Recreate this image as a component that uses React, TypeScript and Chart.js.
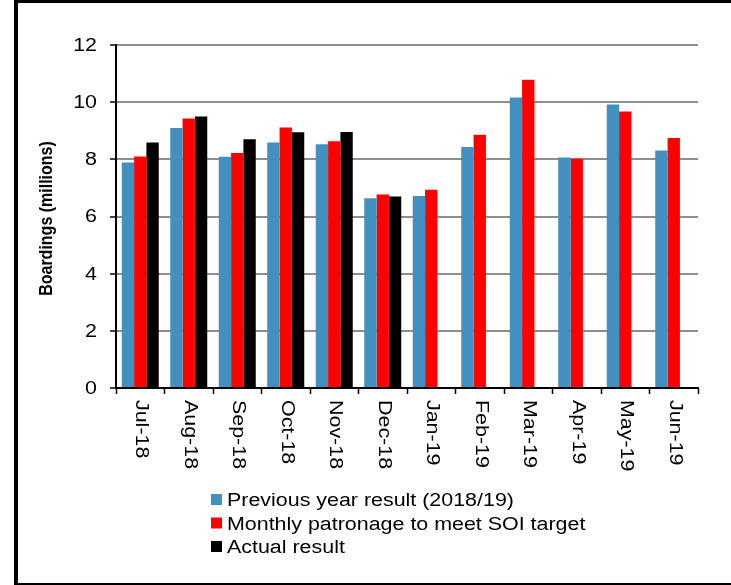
import React, { useEffect, useRef } from 'react';
import { Chart, registerables } from 'chart.js';

Chart.register(...registerables);

const months = ['Jul-18', 'Aug-18', 'Sep-18', 'Oct-18', 'Nov-18', 'Dec-18', 'Jan-19', 'Feb-19', 'Mar-19', 'Apr-19', 'May-19', 'Jun-19'];
const previousYear = [7.89, 9.1, 8.09, 8.59, 8.53, 6.64, 6.72, 8.43, 10.16, 8.06, 9.92, 8.31];
const soiTarget = [8.1, 9.43, 8.22, 9.11, 8.63, 6.77, 6.94, 8.86, 10.78, 8.02, 9.67, 8.75];
const actualResult = [8.59, 9.5, 8.7, 8.95, 8.96, 6.7, null, null, null, null, null, null];
const seriesLabels = ['Previous year result (2018/19)', 'Monthly patronage to meet SOI target', 'Actual result'];
const seriesColors = ['#4290C0', '#FF0000', '#000000'];
const yMin = 0;
const yMax = 12;
const yStep = 2;
const yTitle = 'Boardings (millions)';

const FONT = '"Liberation Sans", Arial, Helvetica, sans-serif';
const STRETCH = 1.19;

const customDraw = {
  id: 'customDraw',
  afterDraw(chart: any) {
    const ctx = chart.ctx as CanvasRenderingContext2D;
    const xs = chart.scales.x;
    const ys = chart.scales.y;
    const area = chart.chartArea;
    ctx.save();
    ctx.fillStyle = '#000';
    ctx.font = `18px ${FONT}`;

    // x tick labels, rotated clockwise
    ctx.textAlign = 'left';
    ctx.textBaseline = 'middle';
    (chart.data.labels as string[]).forEach((lab, i) => {
      const x = xs.getPixelForValue(i);
      ctx.save();
      ctx.translate(x + 1, xs.top + 12);
      ctx.rotate(Math.PI / 2);
      ctx.scale(STRETCH, 1);
      ctx.fillText(lab, 0, 0);
      ctx.restore();
    });

    // y tick labels
    ctx.textAlign = 'right';
    ctx.textBaseline = 'middle';
    ys.ticks.forEach((t: any) => {
      const y = ys.getPixelForValue(t.value);
      ctx.save();
      ctx.translate(97, y + 1);
      ctx.scale(STRETCH, 1);
      ctx.fillText(String(t.value), 0, 0);
      ctx.restore();
    });

    // y axis title (rotated, thickness stretched horizontally)
    ctx.save();
    ctx.font = `bold 16px ${FONT}`;
    ctx.textAlign = 'center';
    ctx.textBaseline = 'middle';
    ctx.translate(47, (area.top + area.bottom) / 2 + 2);
    ctx.scale(STRETCH, 1);
    ctx.rotate(-Math.PI / 2);
    ctx.fillText(yTitle, 0, 0);
    ctx.restore();

    // legend
    ctx.textAlign = 'left';
    ctx.textBaseline = 'alphabetic';
    chart.data.datasets.forEach((ds: any, i: number) => {
      const cy = 499.5 + i * 23.5;
      ctx.fillStyle = ds.backgroundColor;
      ctx.fillRect(211, cy - 5.5, 11, 11);
      ctx.fillStyle = '#000';
      ctx.save();
      ctx.translate(227, cy + 6.5);
      ctx.scale(STRETCH, 1);
      ctx.fillText(ds.label, 0, 0);
      ctx.restore();
    });
    ctx.restore();
  },
};

export default function App() {
  const ref = useRef<HTMLCanvasElement | null>(null);
  useEffect(() => {
    if (!ref.current) return;
    const datasets = [previousYear, soiTarget, actualResult].map((d, i) => ({
      label: seriesLabels[i],
      data: d,
      backgroundColor: seriesColors[i],
      borderWidth: 0,
      barPercentage: 1.0,
      categoryPercentage: 0.763,
    }));
    const chart = new Chart(ref.current, {
      type: 'bar',
      data: { labels: months, datasets },
      options: {
        animation: false,
        responsive: false,
        maintainAspectRatio: false,
        layout: { padding: { top: 45, right: 33, bottom: 97, left: 0 } },
        plugins: { legend: { display: false }, tooltip: { enabled: false } },
        scales: {
          x: {
            offset: true,
            grid: {
              display: true,
              offset: true,
              drawOnChartArea: false,
              drawTicks: true,
              tickLength: 6,
              tickColor: '#000',
              tickWidth: 1.5,
            },
            border: { display: true, color: '#000', width: 2 },
            ticks: { display: false },
            afterFit: (s: any) => {
              s.height = 100;
            },
          },
          y: {
            min: yMin,
            max: yMax,
            ticks: { stepSize: yStep, display: false },
            grid: {
              color: '#8e8e8e',
              lineWidth: 2,
              tickColor: '#000',
              tickLength: 6,
              tickWidth: 1.5,
            },
            border: { display: true, color: '#000', width: 2 },
            title: { display: false, text: yTitle },
            afterFit: (s: any) => {
              s.width = 116;
            },
          },
        },
      } as any,
      plugins: [customDraw],
    });
    return () => chart.destroy();
  }, []);

  return (
    <div style={{ position: 'fixed', left: 0, top: 0, width: 731, height: 585, background: '#fff' }}>
      <canvas ref={ref} width={731} height={585} style={{ position: 'absolute', left: 0, top: 0 }} />
      <div
        style={{
          position: 'absolute',
          left: 14,
          top: 0,
          width: 800,
          height: 585,
          boxSizing: 'border-box',
          borderLeft: '4px solid #000',
          borderTop: '3px solid #000',
          borderBottom: '2px solid #000',
          pointerEvents: 'none',
        }}
      />
    </div>
  );
}
